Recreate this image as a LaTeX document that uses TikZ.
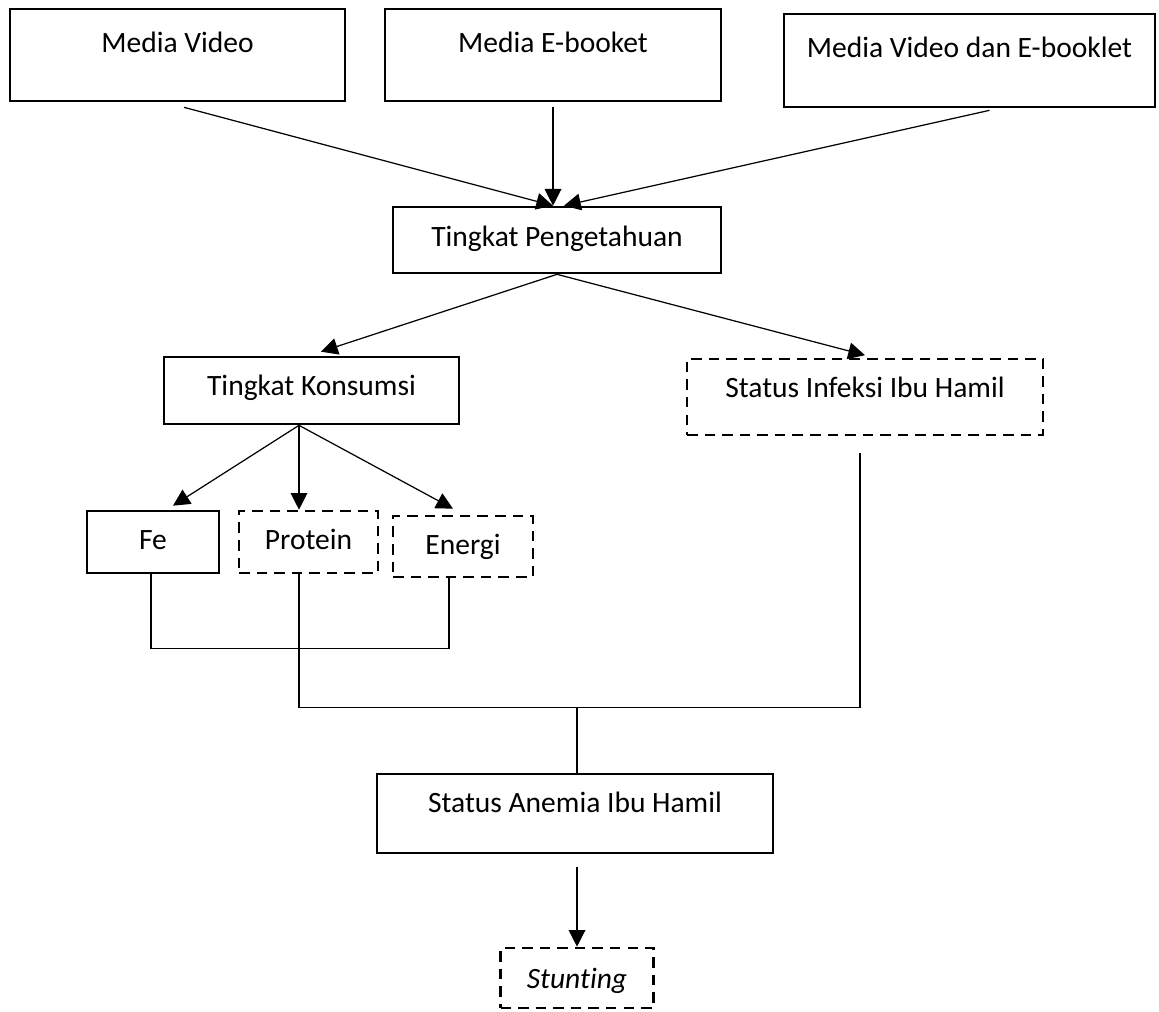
\documentclass[tikz,border=0pt]{standalone}
\usepackage{fontspec}
\setmainfont{Carlito}[Ligatures={NoCommon,NoContextual}]
\usetikzlibrary{arrows.meta}
\tikzset{
  solidbox/.style={draw, line width=1.5pt, inner sep=0pt, text height=12pt, text depth=#1},
  solidbox/.default=3pt,
  dashbox/.style={solidbox=#1, dash pattern=on 6pt off 4pt},
  dashbox/.default=3pt,
  link/.style={line width=0.7pt},
  arr/.style={link, -{Triangle[length=9.5pt,width=9.5pt]}}
}
\begin{document}
\begin{tikzpicture}[every node/.style={font=\fontsize{16.8}{20}\selectfont}]
  \useasboundingbox (0,0) rectangle (23.18,-20.22);

  \path (3.55,-1.10) node(vid)[solidbox=15pt, minimum width=6.7cm, minimum height=1.84cm] {Media Video}
        (11.06,-1.10) node(ebk)[solidbox=15pt, minimum width=6.72cm, minimum height=1.84cm] {Media E-booket}
        (19.39,-1.21) node(both)[solidbox=15pt, minimum width=7.42cm, minimum height=1.86cm] {Media Video dan E-booklet};
  \path (11.14,-4.80) node(tahu)[solidbox=5pt, minimum width=6.56cm, minimum height=1.32cm] {Tingkat Pengetahuan};
  \path (6.23,-7.81) node(kons)[solidbox=6.5pt, minimum width=5.9cm, minimum height=1.34cm] {Tingkat Konsumsi}
        (17.30,-7.94) node(inf)[dashbox=11.5pt, minimum width=7.12cm, minimum height=1.52cm] {Status Infeksi Ibu Hamil};
  \path (3.06,-10.84) node(fe)[solidbox=3.7pt, minimum width=2.64cm, minimum height=1.24cm] {Fe}
        (6.17,-10.84) node(prot)[dashbox=3.7pt, minimum width=2.78cm, minimum height=1.24cm] {Protein}
        (9.26,-10.93) node(en)[dashbox=3.2pt, minimum width=2.8cm, minimum height=1.22cm] {Energi};
  \path (11.50,-16.27) node(anem)[solidbox=13pt, minimum width=7.92cm, minimum height=1.58cm] {Status Anemia Ibu Hamil}
        (11.54,-19.56) node(stunt)[dashbox=0pt, minimum width=3.06cm, minimum height=1.2cm] {\itshape Stunt\kern0pt ing};

  \draw[arr] ([shift={(0.13,-0.1)}]vid.south) -- ([xshift=-0.08cm]tahu.north);
  \draw[arr] ([yshift=-0.1cm]ebk.south) -- (ebk.south |- tahu.north);
  \draw[arr] ([shift={(0.4,-0.04)}]both.south) -- ([xshift=0.14cm]tahu.north);

  \draw[arr] (tahu.south) -- ([shift={(0.19,0.08)}]kons.north);
  \draw[arr] (tahu.south) -- ([yshift=0.05cm]inf.north);

  \coordinate (k) at ([xshift=-0.25cm]kons.south);
  \draw[arr] (k) -- ([shift={(0.4,0.08)}]fe.north);
  \draw[arr] (k) -- (k |- prot.north);
  \draw[arr] (k) -- ([shift={(-0.2,0.12)}]en.north);

  \draw[link] ([xshift=-0.04cm]fe.south) -- ++(0,-1.48) -| ([xshift=-0.28cm]en.south);
  \coordinate (join) at ([shift={(0.04,1.3)}]anem.north);
  \draw[link] ([xshift=-0.19cm]prot.south) |- (join) -| ([shift={(-0.1,-0.34)}]inf.south);
  \draw[link] (join) -- (join |- anem.north);
  \coordinate (a) at ([yshift=-0.26cm]anem.south -| stunt.north);
  \draw[arr] (a) -- (stunt.north);
\end{tikzpicture}
\end{document}
